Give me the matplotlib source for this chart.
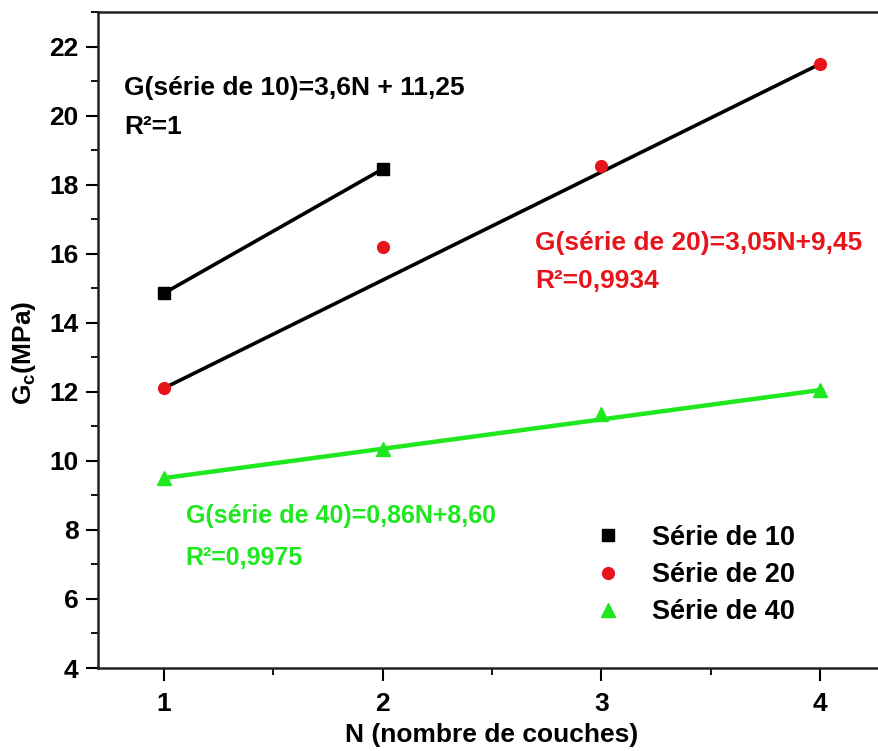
import matplotlib.pyplot as plt
from matplotlib.ticker import MultipleLocator

plt.rcParams['font.family'] = ['Liberation Sans', 'DejaVu Sans']
plt.rcParams['font.weight'] = 'bold'
plt.rcParams['mathtext.default'] = 'regular'

# data
n10 = [1, 2]
g10 = [14.85, 18.45]
n20 = [1, 2, 3, 4]
g20 = [12.1, 16.2, 18.55, 21.5]
n40 = [1, 2, 3, 4]
g40 = [9.5, 10.35, 11.35, 12.05]

# fitted lines as drawn (end points)
fit10_n = [1, 2]
fit10_g = [14.85, 18.45]
fit20_n = [1, 4]
fit20_g = [12.1, 21.5]
fit40_n = [1, 4]
fit40_g = [9.5, 12.05]

labels = ['Série de 10', 'Série de 20', 'Série de 40']
red = '#e8141c'
green = '#1fe81f'
fs = 19

fig = plt.figure(figsize=(8.79, 7.51), dpi=100)
ax = fig.add_axes([98 / 879, 83 / 751, 788 / 879, 656 / 751])

ax.plot(fit10_n, fit10_g, color='black', lw=2.6)
ax.plot(fit20_n, fit20_g, color='black', lw=2.6)
ax.plot(fit40_n, fit40_g, color=green, lw=3.2)

ax.plot(n10, g10, 's', color='black', ms=8, label=labels[0])
ax.plot(n20, g20, 'o', color=red, ms=8.5, label=labels[1])
ax.plot(n40, g40, '^', color=green, ms=9.5, label=labels[2])

ax.set_xlim(0.7, 4.3)
ax.set_ylim(4, 23)
ax.set_xticks([1, 2, 3, 4])
ax.set_yticks([4, 6, 8, 10, 12, 14, 16, 18, 20, 22])
ax.xaxis.set_minor_locator(MultipleLocator(0.5))
ax.yaxis.set_minor_locator(MultipleLocator(1))
ax.tick_params(which='major', direction='out', length=9, width=1.5,
               labelsize=fs, pad=5)
ax.tick_params(which='minor', direction='out', length=5, width=1.3)
ax.tick_params(axis='x', which='major', pad=8)
for s in ax.spines.values():
    s.set_linewidth(1.8)
    s.set_color('#222222')

ax.set_xlabel('N (nombre de couches)', fontsize=fs, fontweight='bold',
              labelpad=5)
ax.set_ylabel('G$_c$(MPa)', fontsize=fs, fontweight='bold')
ax.yaxis.set_label_coords(-0.076, 0.48)

ax.text(0.818, 20.61, 'G(série de 10)=3,6N + 11,25', fontsize=fs,
        color='black', va='baseline')
ax.text(0.818, 19.46, 'R²=1', fontsize=fs, color='black', va='baseline')
ax.text(2.696, 16.1, 'G(série de 20)=3,05N+9,45', fontsize=fs,
        color=red, va='baseline')
ax.text(2.696, 15.0, 'R²=0,9934', fontsize=fs, color=red, va='baseline')
ax.text(1.10, 8.21, 'G(série de 40)=0,86N+8,60', fontsize=18,
        color=green, va='baseline')
ax.text(1.10, 6.97, 'R²=0,9975', fontsize=18, color=green, va='baseline')

ax.legend(loc='center left', bbox_to_anchor=(571 / 879, 1 - 575 / 751),
          bbox_transform=fig.transFigure, frameon=False, fontsize=19.5,
          handlelength=0.9, handletextpad=1.2, labelspacing=0.42,
          borderpad=0.4)

fig.savefig('out.png', dpi=100)
